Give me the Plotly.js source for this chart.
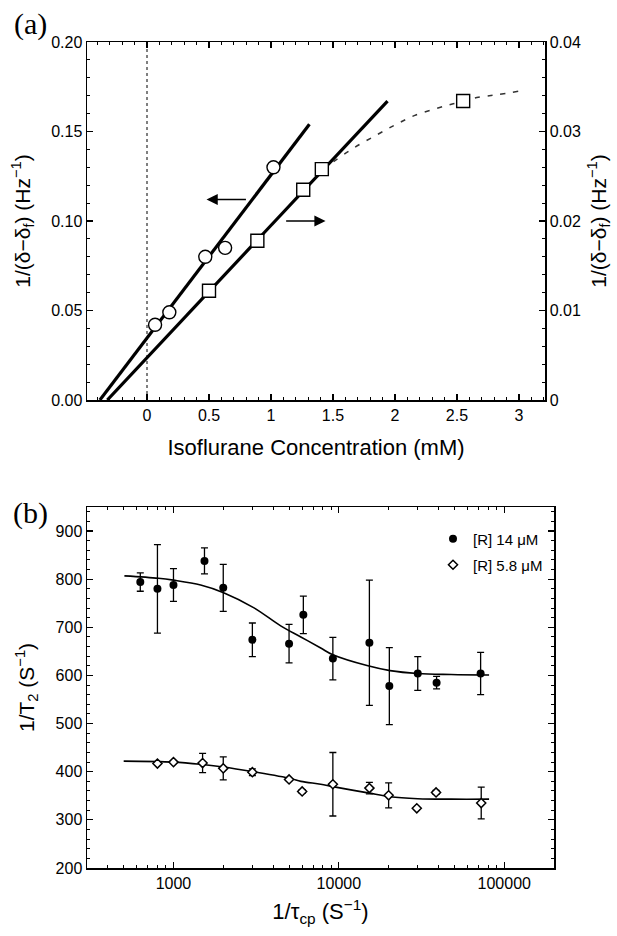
<!DOCTYPE html>
<html>
<head>
<meta charset="utf-8">
<script src="https://cdn.plot.ly/plotly-3.0.1.min.js"></script>
<style>html,body{margin:0;padding:0;background:#fff;}#chart{width:617px;height:936px;}</style>
</head>
<body>
<div id="chart"></div>
<script>
// ---- Panel (a) data ----
const circleX = [0.065, 0.18, 0.47, 0.63, 1.02];
const circleY = [0.042, 0.049, 0.080, 0.085, 0.130];
const circleFitX = [-0.38, 1.31];
const circleFitY = [0.0, 0.154];
const squareX = [0.50, 0.89, 1.26, 1.41, 2.55];
const squareY = [0.0122, 0.0178, 0.0235, 0.0258, 0.0334];
const squareFitX = [-0.32, 1.94];
const squareFitY = [0.0, 0.0334];
const dashX = [1.42, 1.50, 1.66, 1.85, 2.01, 2.16, 2.34, 2.47, 2.66, 2.82, 3.00];
const dashY = [0.0258, 0.0266, 0.0281, 0.0296, 0.0308, 0.0318, 0.0326, 0.0331, 0.0338, 0.0341, 0.0345];

// ---- Panel (b) data ----
const highX = [630, 800, 1000, 1540, 2000, 3000, 5000, 6100, 9200, 15300, 20200, 30000, 39000, 72000];
const highY = [794, 780, 788, 838, 782, 674, 666, 726, 635, 668, 578, 604, 585, 604];
const highErr = [19, 92, 34, 27, 49, 35, 40, 39, 44, 130, 80, 35, 13, 44];
const lowX = [800, 1000, 1500, 2000, 3000, 5000, 6000, 9200, 15300, 20000, 29600, 38700, 72600];
const lowY = [417, 420, 418, 407, 399, 384, 359, 374, 366, 351, 324, 357, 335];
const lowErr = [0, 0, 20, 24, 7, 0, 4, 66, 12, 26, 0, 4, 33];
const highFitX = [505, 811, 1000, 1460, 2010, 3050, 4450, 5890, 7770, 9200, 15000, 20400, 30000, 47700, 81000];
const highFitY = [807, 802, 798, 788, 772, 741, 703, 680, 657, 643, 620, 610, 604, 602, 601];
const lowFitX = [500, 1000, 1500, 2000, 3050, 5110, 5900, 7770, 9200, 15000, 20400, 30000, 47700, 81000];
const lowFitY = [422, 420, 415, 410, 400, 386, 380, 374, 369, 356, 348, 344, 343, 343];

const xTicksA = [0, 0.5, 1, 1.5, 2, 2.5, 3];
const xTickTextA = ['0', '0.5', '1', '1.5', '2', '2.5', '3'];
const yTicksA = [0, 0.05, 0.10, 0.15, 0.20];
const yTickTextA = ['0.00', '0.05', '0.10', '0.15', '0.20'];
const y2TicksA = [0, 0.01, 0.02, 0.03, 0.04];
const y2TickTextA = ['0', '0.01', '0.02', '0.03', '0.04'];
const xTicksB = [1000, 10000, 100000];
const xTickTextB = ['1000', '10000', '100000'];
const xMinorB = [300, 400, 500, 600, 700, 800, 900, 2000, 3000, 4000, 5000, 6000, 7000, 8000, 9000,
                 20000, 30000, 40000, 50000, 60000, 70000, 80000, 90000, 200000];
const yTicksB = [200, 300, 400, 500, 600, 700, 800, 900];
const yTickTextB = ['200', '300', '400', '500', '600', '700', '800', '900'];

const W = 617, H = 936;
const FONT = 'Arial, "Liberation Sans", Helvetica, sans-serif';
const SERIF = '"Times New Roman", "Liberation Serif", "DejaVu Serif", serif';

const traces = [
  // Panel (a)
  {x: circleFitX, y: circleFitY, xaxis: 'x', yaxis: 'y', mode: 'lines',
   line: {color: '#000', width: 3.2}, showlegend: false, hoverinfo: 'skip'},
  {x: squareFitX, y: squareFitY, xaxis: 'x', yaxis: 'y2', mode: 'lines',
   line: {color: '#000', width: 3.2}, showlegend: false, hoverinfo: 'skip'},
  {x: dashX, y: dashY, xaxis: 'x', yaxis: 'y2', mode: 'lines',
   line: {color: '#333', width: 1.5, dash: '5px,8px', shape: 'spline'}, showlegend: false},
  {x: circleX, y: circleY, xaxis: 'x', yaxis: 'y', mode: 'markers',
   marker: {symbol: 'circle', size: 13, color: '#fff', line: {color: '#000', width: 1.4}}, showlegend: false},
  {x: squareX, y: squareY, xaxis: 'x', yaxis: 'y2', mode: 'markers',
   marker: {symbol: 'square', size: 13, color: '#fff', line: {color: '#000', width: 1.4}}, showlegend: false},
  // Panel (b)
  {x: highFitX, y: highFitY, xaxis: 'x2', yaxis: 'y3', mode: 'lines',
   line: {color: '#000', width: 1.6, shape: 'spline'}, showlegend: false},
  {x: lowFitX, y: lowFitY, xaxis: 'x2', yaxis: 'y3', mode: 'lines',
   line: {color: '#000', width: 1.6, shape: 'spline'}, showlegend: false},
  {x: highX, y: highY, xaxis: 'x2', yaxis: 'y3', mode: 'markers', name: '[R] 14 μM',
   legend: 'legend',
   error_y: {type: 'data', array: highErr, visible: true, color: '#000', thickness: 1.3, width: 3.5},
   marker: {symbol: 'circle', size: 8, color: '#000'}},
  {x: lowX, y: lowY, xaxis: 'x2', yaxis: 'y3', mode: 'markers', name: '[R] 5.8 μM',
   legend: 'legend2',
   error_y: {type: 'data', array: lowErr, visible: true, color: '#000', thickness: 1.3, width: 3.5},
   marker: {symbol: 'diamond', size: 7, color: '#fff', line: {color: '#000', width: 1.5}}}
];

const axisBase = {
  showgrid: false, zeroline: false, showline: true, linecolor: '#000', linewidth: 1.5,
  ticks: 'inside', ticklen: 6, tickwidth: 1.2, tickcolor: '#000',
  tickfont: {family: FONT, size: 16, color: '#000'}, automargin: false
};
const minorBase = {ticks: 'inside', ticklen: 3, tickcolor: '#000', tickwidth: 1};

const layout = {
  width: W, height: H,
  margin: {l: 0, r: 0, t: 0, b: 0},
  paper_bgcolor: '#fff', plot_bgcolor: '#fff',
  font: {family: FONT, color: '#000'},
  xaxis: Object.assign({}, axisBase, {
    domain: [87 / W, 545 / W], anchor: 'y', range: [-0.484, 3.21],
    tickmode: 'array', tickvals: xTicksA, ticktext: xTickTextA, mirror: 'ticks',
    minor: Object.assign({dtick: 0.1, tick0: 0}, minorBase),
    title: {text: 'Isoflurane Concentration (mM)', font: {family: FONT, size: 22, color: '#000'}, standoff: 17}
  }),
  yaxis: Object.assign({}, axisBase, {
    domain: [1 - 400 / H, 1 - 42 / H], anchor: 'x', range: [0, 0.2],
    tickmode: 'array', tickvals: yTicksA, ticktext: yTickTextA,
    minor: Object.assign({dtick: 0.01, tick0: 0}, minorBase),
    title: {text: '1/(δ−δ<sub>f</sub>) (Hz<sup>−1</sup>)', font: {family: FONT, size: 21, color: '#000'}, standoff: 15}
  }),
  yaxis2: Object.assign({}, axisBase, {
    domain: [1 - 400 / H, 1 - 42 / H], anchor: 'x', overlaying: 'y', side: 'right', range: [0, 0.04],
    tickmode: 'array', tickvals: y2TicksA, ticktext: y2TickTextA,
    minor: Object.assign({dtick: 0.002, tick0: 0}, minorBase),
    title: {text: '1/(δ−δ<sub>f</sub>) (Hz<sup>−1</sup>)', font: {family: FONT, size: 21, color: '#000'}, standoff: 11}
  }),
  xaxis2: Object.assign({}, axisBase, {
    domain: [87 / W, 554 / W], anchor: 'y3', type: 'log', range: [Math.log10(300), Math.log10(200000)],
    tickmode: 'array', tickvals: xTicksB, ticktext: xTickTextB, mirror: 'allticks',
    minor: Object.assign({tickmode: 'array', tickvals: xMinorB}, minorBase),
    title: {text: '1/τ<sub>cp</sub> (S<sup>−1</sup>)', font: {family: FONT, size: 22, color: '#000'}, standoff: 13}
  }),
  yaxis3: Object.assign({}, axisBase, {
    domain: [1 - 868 / H, 1 - 507 / H], anchor: 'x2', range: [200, 950],
    tickmode: 'array', tickvals: yTicksB, ticktext: yTickTextB, mirror: 'allticks',
    minor: Object.assign({dtick: 20, tick0: 0}, minorBase),
    title: {text: '1/T<sub>2</sub> (S<sup>−1</sup>)', font: {family: FONT, size: 21, color: '#000'}, standoff: 15}
  }),
  legend: {x: 433 / W, y: 1 - 539 / H, xanchor: 'left', yanchor: 'middle', bgcolor: 'rgba(0,0,0,0)',
           font: {family: FONT, size: 15, color: '#000'}, borderwidth: 0},
  legend2: {x: 433 / W, y: 1 - 565 / H, xanchor: 'left', yanchor: 'middle', bgcolor: 'rgba(0,0,0,0)',
            font: {family: FONT, size: 15, color: '#000'}, borderwidth: 0},
  shapes: [
    {type: 'line', xref: 'x', yref: 'y domain', x0: 0, x1: 0, y0: 0, y1: 1,
     line: {color: '#000', width: 1, dash: 'dot'}}
  ],
  annotations: [
    {text: '(a)', xref: 'paper', yref: 'paper', x: 30 / W, y: 1 - 24 / H, xanchor: 'center', yanchor: 'middle',
     showarrow: false, font: {family: SERIF, size: 30, color: '#000'}},
    {text: '(b)', xref: 'paper', yref: 'paper', x: 30 / W, y: 1 - 513 / H, xanchor: 'center', yanchor: 'middle',
     showarrow: false, font: {family: SERIF, size: 30, color: '#000'}},
    {text: '', xref: 'x', yref: 'y', x: 0.48, y: 0.112, axref: 'x', ayref: 'y', ax: 0.81, ay: 0.112,
     showarrow: true, arrowhead: 2, arrowsize: 1.4, arrowwidth: 1.6, arrowcolor: '#000'},
    {text: '', xref: 'x', yref: 'y2', x: 1.44, y: 0.020, axref: 'x', ayref: 'y2', ax: 1.11, ay: 0.020,
     showarrow: true, arrowhead: 2, arrowsize: 1.4, arrowwidth: 1.6, arrowcolor: '#000'}
  ]
};

Plotly.newPlot('chart', traces, layout, {displayModeBar: false, staticPlot: true});
</script>
</body>
</html>
